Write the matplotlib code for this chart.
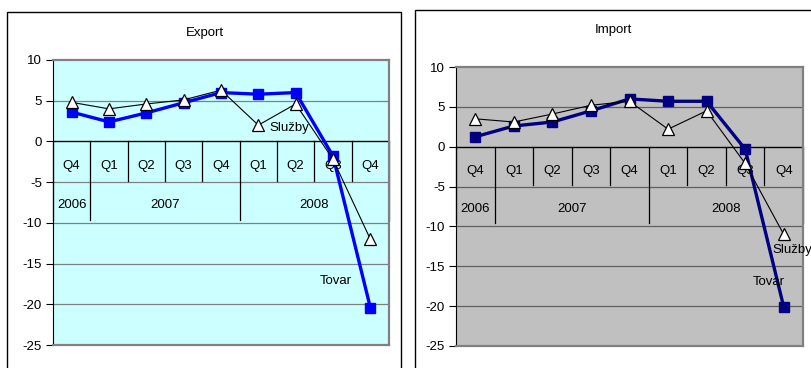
import matplotlib
matplotlib.use("Agg")
import matplotlib.pyplot as plt
from matplotlib.patches import Rectangle

plt.rcParams['font.family'] = ['Liberation Sans', 'DejaVu Sans']

quarters = ["Q4", "Q1", "Q2", "Q3", "Q4", "Q1", "Q2", "Q3", "Q4"]
years = ["2006", "2007", "2008"]
year_spans = [(0, 0), (1, 4), (5, 8)]

export_tovar = [3.6, 2.4, 3.5, 4.75, 6.0, 5.8, 6.0, -1.8, -20.4]
export_sluzby = [4.8, 4.0, 4.6, 5.1, 6.3, 2.0, 4.6, -2.2, -12.0]

import_tovar = [1.25, 2.6, 3.1, 4.5, 6.0, 5.7, 5.7, -0.3, -20.1]
import_sluzby = [3.5, 3.1, 4.1, 5.2, 5.7, 2.2, 4.5, -2.1, -11.0]

W, H = 811, 368
FS = 9.5
fig = plt.figure(figsize=(W / 100, H / 100), dpi=100)
fig.patch.set_facecolor("white")


def px_axes(x0, x1, y0, y1):
    return fig.add_axes([x0 / W, 1 - y1 / H, (x1 - x0) / W, (y1 - y0) / H])


def frame(x0, x1, y0, y1):
    fig.add_artist(Rectangle((x0 / W, 1 - y1 / H), (x1 - x0) / W, (y1 - y0) / H,
                             transform=fig.transFigure, fill=False,
                             edgecolor="black", linewidth=1.0, clip_on=False))


def draw_panel(ax, tovar, sluzby, bg, grid_c, line_c, sl_pos, tv_pos):
    n = len(quarters)
    x = list(range(n))
    ax.set_facecolor(bg)
    ax.set_xlim(-0.5, n - 0.5)
    ax.set_ylim(-25, 10)
    ax.set_yticks([10, 5, 0, -5, -10, -15, -20, -25])
    ax.set_yticklabels(["10", "5", "0", "-5", "-10", "-15", "-20", "-25"])
    ax.tick_params(axis="y", direction="out", length=5, width=0.8, labelsize=FS, pad=3)
    ax.set_xticks([])
    for s in ("top", "right", "bottom"):
        ax.spines[s].set_color("#808080")
        ax.spines[s].set_linewidth(1.6)
    ax.spines["left"].set_color("black")
    ax.spines["left"].set_linewidth(0.8)
    for g in (5, -5, -10, -15, -20):
        ax.axhline(g, color=grid_c, linewidth=0.9, zorder=1)
    ax.axhline(0, color="black", linewidth=1.0, zorder=2)

    # two-level category axis drawn inside the plot area
    for k in range(n + 1):
        xb = k - 0.5
        if k in (0, 1, 5, n):
            ax.plot([xb, xb], [0, -9.6], color="black", linewidth=0.9, zorder=2,
                    clip_on=False)
        else:
            ax.plot([xb, xb], [0, -4.8], color="black", linewidth=0.9, zorder=2)
    for i, q in enumerate(quarters):
        ax.text(i, -3.0, q, ha="center", va="center", fontsize=FS, zorder=3)
    for yr, (a, b) in zip(years, year_spans):
        ax.text((a + b) / 2, -7.8, yr, ha="center", va="center", fontsize=FS, zorder=3)

    ax.plot(x, tovar, color=line_c, linewidth=2.4, marker="s", markersize=6.5,
            markerfacecolor=line_c, markeredgecolor=line_c, zorder=4, clip_on=False)
    ax.plot(x, sluzby, color="black", linewidth=0.8, marker="^", markersize=8,
            markerfacecolor="white", markeredgecolor="black", markeredgewidth=0.9,
            zorder=5, clip_on=False)

    ax.text(sl_pos[0], sl_pos[1], "Služby", fontsize=FS, ha="left", va="center",
            zorder=6, clip_on=False)
    ax.text(tv_pos[0], tv_pos[1], "Tovar", fontsize=FS, ha="left", va="center", zorder=6)


frame(7, 401, 12, 380)
frame(415, 830, 10, 380)

ax1 = px_axes(53, 389, 60, 345)
draw_panel(ax1, export_tovar, export_sluzby, "#CCFFFF", "#808080",
           "#0000FF", (5.3, 1.7), (6.65, -17.2))
fig.text(205 / W, 1 - 33 / H, "Export", ha="center", va="center", fontsize=FS)

ax2 = px_axes(456, 803, 67, 346)
draw_panel(ax2, import_tovar, import_sluzby, "#C0C0C0", "#606060",
           "#000080", (7.7, -12.9), (7.2, -17.0))
fig.text(613 / W, 1 - 30 / H, "Import", ha="center", va="center", fontsize=FS)

fig.savefig("out.png", dpi=100)
